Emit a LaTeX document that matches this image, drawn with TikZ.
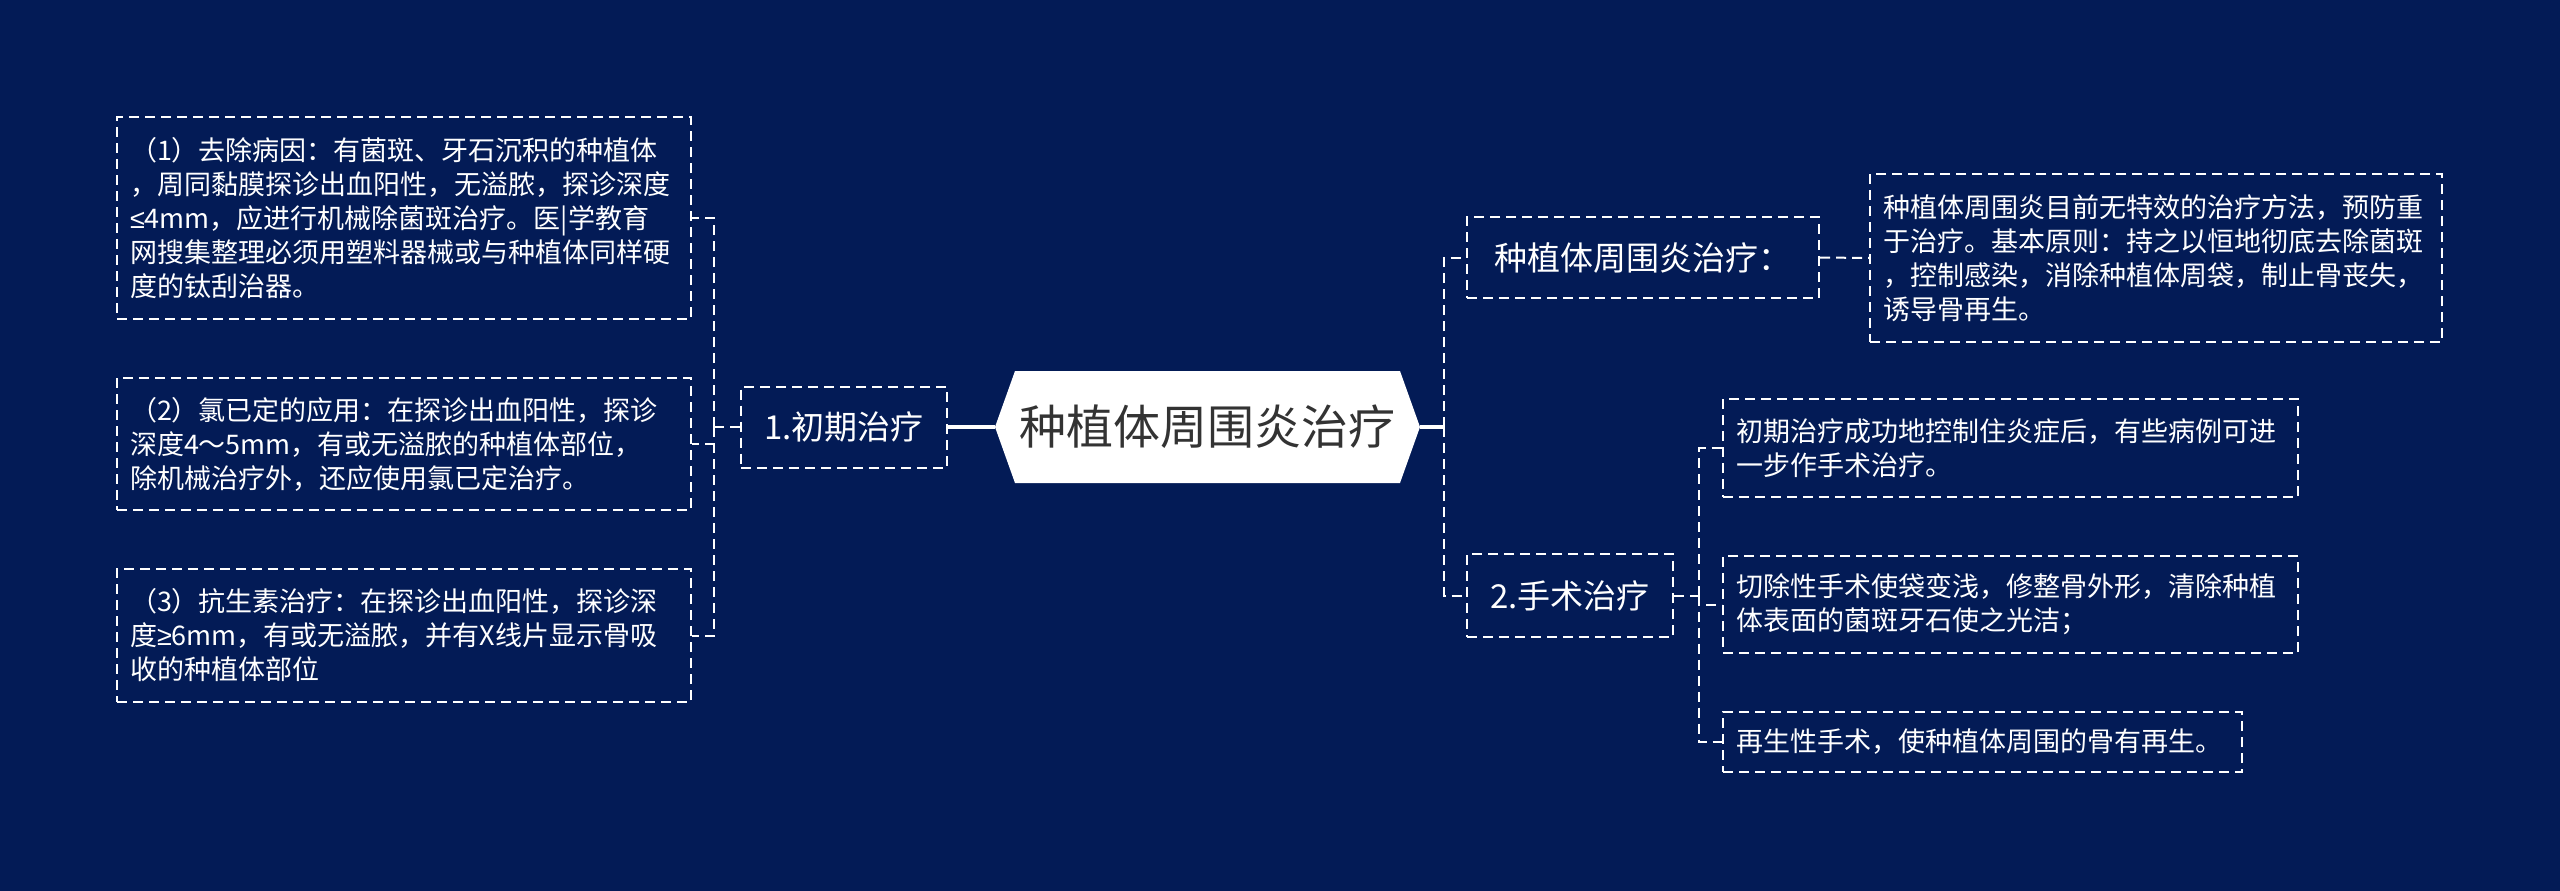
\documentclass[tikz,border=0pt]{standalone}
\usepackage{fontspec}
\setmainfont{Noto Sans CJK SC}
\newfontfamily\mathsym{Liberation Sans}
\usetikzlibrary{calc}
\definecolor{navy}{RGB}{3,27,86}
\definecolor{rootgray}{RGB}{51,51,51}

\begin{document}
\begin{tikzpicture}[x=1pt,y=-1pt,
    link/.style={white,line width=2pt,dash pattern=on 10pt off 6pt},
    trunk/.style={white,line width=4pt},
    leaf/.style={draw=white,line width=2pt,dash pattern=on 10pt off 6pt,text=white,
        align=left,text width=#1,inner xsep=13pt,inner ysep=6pt,font=\fontsize{27}{34}\selectfont},
    branch/.style={draw=white,line width=2pt,dash pattern=on 10pt off 6pt,text=white,
        inner sep=0pt,font=\fontsize{33}{40}\selectfont}]
    % draw the background
    \fill[navy] (0,0) rectangle (2560,891);
    % draw the root hexagon
    \fill[white] (995,427) -- (1015,371) -- (1400,371) -- (1420,427) -- (1400,483) -- (1015,483) -- cycle;
    \node[minimum width=425pt,minimum height=112pt,text=rootgray,font=\fontsize{47}{56}\selectfont]
        (root) at (1207.5,427) {种植体周围炎治疗};
    % left side
    \node[branch,minimum width=206pt,minimum height=81pt] (early) at (844,427) {1.初期治疗};
    \node[leaf=548pt,minimum height=202pt] (cause) at (404,218) {（1）去除病因：有菌斑、牙石沉积的种植体\\，周同黏膜探诊出血阳性，无溢脓，探诊深度\\{\mathsym ≤}4mm，应进行机械除菌斑治疗。医|学教育\\网搜集整理必须用塑料器械或与种植体同样硬\\度的钛刮治器。};
    \node[leaf=548pt,minimum height=132pt] (chlor) at (404,444) {（2）氯已定的应用：在探诊出血阳性，探诊\\深度4～5mm，有或无溢脓的种植体部位，\\除机械治疗外，还应使用氯已定治疗。};
    \node[leaf=548pt,minimum height=133pt] (anti) at (404,635.5) {（3）抗生素治疗：在探诊出血阳性，探诊深\\度{\mathsym ≥}6mm，有或无溢脓，并有X线片显示骨吸\\收的种植体部位};
    % right side
    \node[branch,minimum width=352pt,minimum height=81pt] (treat) at (1643,257.5) {种植体周围炎治疗：};
    \node[leaf=546pt,minimum height=168pt] (rule) at (2156,258) {种植体周围炎目前无特效的治疗方法，预防重\\于治疗。基本原则：持之以恒地彻底去除菌斑\\，控制感染，消除种植体周袋，制止骨丧失，\\诱导骨再生。};
    \node[branch,minimum width=206pt,minimum height=83pt] (surg) at (1570,595.5) {2.手术治疗};
    \node[leaf=549pt,minimum height=98pt] (next) at (2010.5,448) {初期治疗成功地控制住炎症后，有些病例可进\\一步作手术治疗。};
    \node[leaf=549pt,minimum height=97pt] (resect) at (2010.5,604.5) {切除性手术使袋变浅，修整骨外形，清除种植\\体表面的菌斑牙石使之光洁；};
    \node[leaf=493pt,minimum height=60pt] (regen) at (1982.5,742) {再生性手术，使种植体周围的骨有再生。};
    % draw the connectors
    \draw[trunk] (early.east) -- (root.west);
    \draw[link] (early.west) -- ++(-26,0) coordinate (lj);
    \foreach \n in {cause,chlor,anti}
        \draw[link] (lj) |- (\n.east);
    \draw[trunk] (root.east) -- ++(24,0) coordinate (rj);
    \foreach \n in {treat,surg}
        \draw[link] (rj) |- (\n.west);
    \draw[link] (treat.east) -- (rule.west);
    \draw[link] (surg.east) -- ++(25,0) coordinate (sj);
    \foreach \n in {next,resect,regen}
        \draw[link] (sj) |- (\n.west);
\end{tikzpicture}
\end{document}
